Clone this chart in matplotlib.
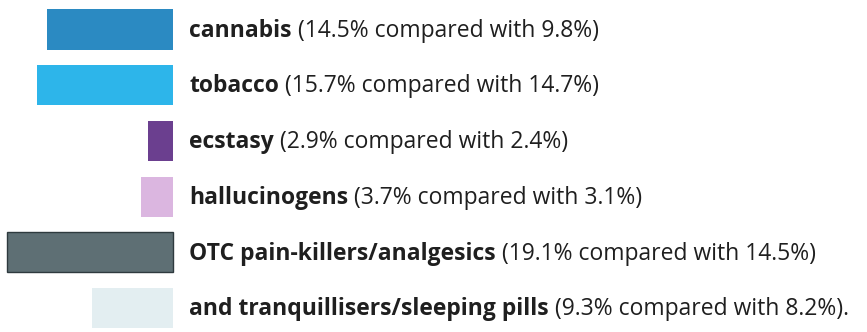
import matplotlib.pyplot as plt

# prevalence now vs. earlier, per substance
drugs = ['cannabis', 'tobacco', 'ecstasy', 'hallucinogens',
         'OTC pain-killers/analgesics', 'and tranquillisers/sleeping pills']
now = [14.5, 15.7, 2.9, 3.7, 19.1, 9.3]
before = [9.8, 14.7, 2.4, 3.1, 14.5, 8.2]
colours = ['#2b8ac2', '#2db5ea', '#6b3f8f', '#dbb6e0', '#5e6f74', '#e3eef1']
edges = ['none', 'none', 'none', 'none', '#2e3a3e', 'none']

plt.rcParams['font.family'] = ['Open Sans', 'DejaVu Sans']

fig = plt.figure(figsize=(8.67, 3.32), dpi=100)
ax = fig.add_axes([0, 0, 1, 1])
ax.axis('off')

ys = list(range(len(drugs)))
# bars grow leftwards from x=0
ax.barh(ys, [-v for v in now], height=0.72, color=colours,
        edgecolor=edges, linewidth=1.0)

ax.set_xlim(-19.9, 79.8)
ax.set_ylim(5.43, -0.53)

fig.canvas.draw()
renderer = fig.canvas.get_renderer()
inv = ax.transData.inverted()

for y, name, a, b in zip(ys, drugs, now, before):
    base = y + 0.13
    t = ax.text(1.84, base, name, fontsize=16.5, fontweight='bold',
                color='#1f1f1f', va='baseline', ha='left')
    bb = t.get_window_extent(renderer)
    x_end = inv.transform((bb.x1, bb.y0))[0]
    tail = ' (%.1f%% compared with %.1f%%)' % (a, b)
    if y == len(drugs) - 1:
        tail += '.'
    ax.text(x_end, base, tail, fontsize=16.5, color='#1f1f1f',
            va='baseline', ha='left')

fig.savefig('out.png', dpi=100, facecolor='white')
